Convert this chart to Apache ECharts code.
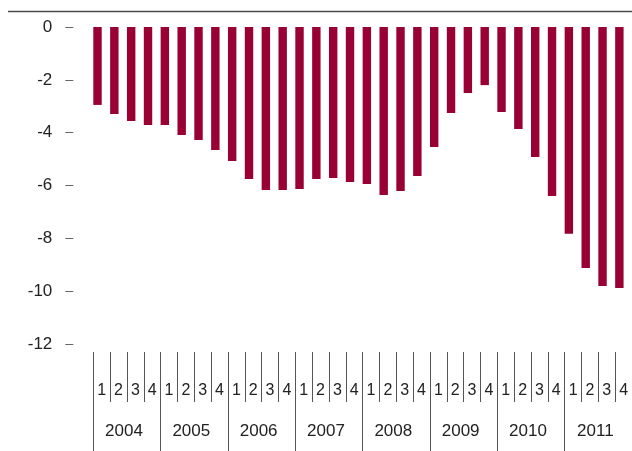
<!DOCTYPE html>
<html>
<head>
<meta charset="utf-8">
<script src="https://cdn.jsdelivr.net/npm/echarts@6/dist/echarts.min.js"></script>
<style>
html,body{margin:0;padding:0;background:#fff;}
#chart{width:632px;height:451px;}
</style>
</head>
<body>
<div id="chart"></div>
<script>
const years = ['2004','2005','2006','2007','2008','2009','2010','2011'];
const quarterLabels = ['1','2','3','4'];
const yTicks = [0,-2,-4,-6,-8,-10,-12];
const values = [
  -2.95,-3.29,-3.56,-3.71,
  -3.71,-4.09,-4.28,-4.66,
  -5.07,-5.75,-6.17,-6.17,
  -6.13,-5.75,-5.72,-5.87,
  -5.94,-6.36,-6.21,-5.64,
  -4.54,-3.26,-2.50,-2.20,
  -3.22,-3.86,-4.92,-6.40,
  -7.83,-9.12,-9.80,-9.88
];
const quarters = [];
years.forEach(y => quarterLabels.forEach(q => quarters.push(y + ' Q' + q)));

const font = '"Liberation Sans", Arial, Helvetica, sans-serif';
const sepStyle = {color:'#555', width:1};
const chart = echarts.init(document.getElementById('chart'), null, {renderer:'canvas'});
chart.setOption({
  animation:false,
  backgroundColor:'#fff',
  grid:[
    {left:93.3, right:-1.3, top:27, bottom:107, containLabel:false},
    {left:93.3, right:-1.3, top:352, height:50, containLabel:false},
    {left:93.3, right:-1.3, top:352, bottom:0, containLabel:false}
  ],
  graphic:[{
    type:'line', shape:{x1:8, y1:11.5, x2:632, y2:11.5},
    style:{stroke:'#4a4a4a', lineWidth:1.6}
  }],
  xAxis:[{
    gridIndex:0, type:'category', data:quarters,
    axisLine:{show:false}, axisTick:{show:false}, axisLabel:{show:false}, splitLine:{show:false}
  },{
    gridIndex:1, type:'category', data:quarters, position:'bottom',
    axisLine:{show:false}, axisTick:{show:false},
    splitLine:{show:true, interval:0, lineStyle:sepStyle},
    axisLabel:{interval:0, inside:true, margin:3, fontSize:16, color:'#222', fontFamily:font,
      verticalAlign:'bottom', formatter: v => v.slice(-1)}
  },{
    gridIndex:2, type:'category', data:years, position:'bottom',
    axisLine:{show:false}, axisTick:{show:false},
    splitLine:{show:true, interval:0, lineStyle:sepStyle},
    axisLabel:{interval:0, inside:true, margin:11, fontSize:17, color:'#222', fontFamily:font,
      verticalAlign:'bottom', padding:[0,6,0,0]}
  }],
  yAxis:[{
    gridIndex:0, type:'value', min:-12, max:0, interval:2, offset:20,
    axisLine:{show:false},
    axisTick:{show:true, length:8, lineStyle:{color:'#666', width:1}},
    splitLine:{show:false},
    axisLabel:{margin:21, fontSize:17, color:'#222', fontFamily:font,
      formatter: v => yTicks.includes(v) ? String(v) : ''}
  },{
    gridIndex:1, type:'value', show:false, splitLine:{show:false}
  },{
    gridIndex:2, type:'value', show:false, splitLine:{show:false}
  }],
  series:[{
    type:'bar', xAxisIndex:0, yAxisIndex:0, data:values, barWidth:'50%', barGap:'0%',
    itemStyle:{color:'#990033'}
  },{
    type:'bar', xAxisIndex:0, yAxisIndex:0, data:values.map(()=>null), barWidth:'50%', barGap:'0%',
    itemStyle:{color:'transparent'}
  }]
});
</script>
</body>
</html>
